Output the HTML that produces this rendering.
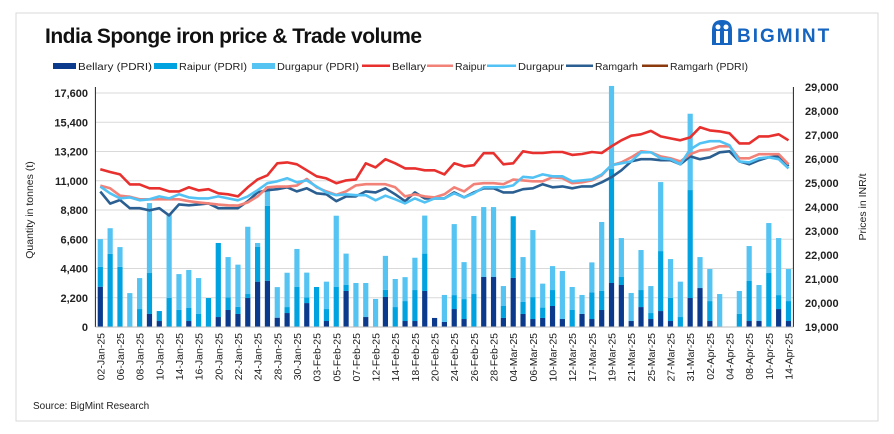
<!DOCTYPE html>
<html><head><meta charset="utf-8">
<style>
body{margin:0;background:#fff;font-family:"Liberation Sans",sans-serif;}
#wrap{position:relative;width:894px;height:434px;overflow:hidden;background:#fff;}
</style></head>
<body>
<div id="wrap">
<svg id="svg" width="894" height="434" xmlns="http://www.w3.org/2000/svg" font-family="Liberation Sans, sans-serif">
<rect x="16" y="13" width="862" height="408" fill="#fff" stroke="#d9d9d9"/>
<text x="45" y="43" font-size="21" font-weight="bold" fill="#111" letter-spacing="-0.5">India Sponge iron price &amp; Trade volume</text>
<g>
<path d="M712 45 L712 30 Q712 20 722 20 Q732 20 732 30 L732 45 Z" fill="#1565c0"/>
<circle cx="718" cy="27" r="2.5" fill="#fff"/><circle cx="726" cy="27" r="2.5" fill="#fff"/>
<rect x="716" y="31" width="4" height="12" fill="#fff"/><rect x="724" y="31" width="4" height="12" fill="#fff"/>
<text x="737" y="42" font-size="19" font-weight="bold" fill="#1565c0" letter-spacing="2">BIGMINT</text>
</g>
<g id="legend" font-size="10" fill="#222"></g>
<g id="grid"></g>
<g id="bars"></g>
<g id="lines"></g>
<g id="axes"></g>
<text x="33" y="409" font-size="10" fill="#222">Source: BigMint Research</text>
</svg>
</div>
<script>
const categories=["02-Jan-25","03-Jan-25","06-Jan-25","07-Jan-25","08-Jan-25","09-Jan-25","10-Jan-25","13-Jan-25","14-Jan-25","15-Jan-25","16-Jan-25","17-Jan-25","20-Jan-25","21-Jan-25","22-Jan-25","23-Jan-25","24-Jan-25","27-Jan-25","28-Jan-25","29-Jan-25","30-Jan-25","31-Jan-25","03-Feb-25","04-Feb-25","05-Feb-25","06-Feb-25","07-Feb-25","10-Feb-25","12-Feb-25","13-Feb-25","14-Feb-25","17-Feb-25","18-Feb-25","19-Feb-25","20-Feb-25","21-Feb-25","24-Feb-25","25-Feb-25","26-Feb-25","27-Feb-25","28-Feb-25","03-Mar-25","04-Mar-25","05-Mar-25","06-Mar-25","07-Mar-25","10-Mar-25","11-Mar-25","12-Mar-25","13-Mar-25","17-Mar-25","18-Mar-25","19-Mar-25","20-Mar-25","21-Mar-25","24-Mar-25","25-Mar-25","26-Mar-25","27-Mar-25","28-Mar-25","31-Mar-25","01-Apr-25","02-Apr-25","03-Apr-25","04-Apr-25","07-Apr-25","08-Apr-25","09-Apr-25","10-Apr-25","11-Apr-25","14-Apr-25"];
const bellaryVol=[3030,0,0,0,0,980,450,0,0,450,0,0,750,1280,980,2180,3410,3480,700,1050,0,1800,0,450,0,2710,0,750,0,2260,0,450,450,2710,680,380,1350,600,0,3760,3760,680,3690,980,600,680,1580,600,0,980,600,1280,3310,3160,450,1500,600,1200,450,0,2180,2930,450,0,0,0,450,450,0,1350,450];
const raipurVol=[1500,5500,4530,0,1350,3080,750,2180,1300,980,980,2180,5570,950,530,300,2630,5640,0,450,3010,430,3010,900,3010,450,0,0,0,530,1500,1500,2330,2810,0,0,1050,1500,2480,0,0,900,4640,900,1650,780,1200,0,1280,0,2000,1430,8570,600,0,1280,450,4510,1730,750,8120,0,1500,0,0,980,3010,0,4060,1050,1500];
const durgapurVol=[2080,1930,1480,2550,2330,5260,0,6340,2680,2860,2700,0,0,3030,3180,5060,280,1430,2300,2580,2860,1860,0,2060,5360,2360,3310,2560,2110,2560,2110,1800,2430,2860,0,2030,5340,2780,5870,5260,5260,1500,0,3380,5040,1800,1800,3610,1730,1430,2260,5190,6250,2930,2110,3010,2030,5190,2930,2660,5740,2330,2410,2480,0,1730,2630,2710,3760,4290,2410];
const bellaryPrice=[25570,25460,25360,24940,24940,24780,24780,24650,24650,24820,24690,24740,24570,24530,24440,24820,25150,25320,25820,25860,25780,25530,25280,25190,24990,25110,25150,25820,25650,25990,25820,25610,25610,25530,25530,25360,25820,25690,25740,26240,26240,25780,25820,26320,26250,26250,26290,26290,26170,26210,26290,26250,26530,26780,26970,27030,27170,26940,26860,26780,26900,27320,27190,27150,27070,26650,26650,26940,26940,27030,26780];
const raipurPrice=[24890,24780,24470,24430,24320,24320,24320,24320,24320,24240,24190,24150,24100,24070,24060,24190,24440,24820,24850,24850,24890,25170,24820,24650,24510,24650,24900,24950,24950,24950,24820,24440,24530,24440,24400,24530,24820,24650,24950,24990,24990,24950,25140,25110,25070,25070,25240,25200,24990,25030,25110,25320,25740,25860,26070,26320,26280,26110,26030,25900,26200,26360,26400,26530,26530,26030,26030,26200,26200,26200,25780];
const durgapurPrice=[24850,24570,24360,24400,24280,24320,24440,24360,24530,24400,24360,24360,24440,24360,24280,24440,24700,24990,25070,25200,25030,25110,24850,24610,24490,24530,24490,24490,24280,24470,24320,24150,24360,24190,24360,24360,24570,24400,24570,24820,24820,24820,24900,25260,25220,25360,25280,25280,25070,25110,25150,25350,25740,25820,25900,26280,26280,26030,25990,25780,26400,26650,26740,26740,26570,25900,25860,26030,26070,25990,25610];
const ramgarhPrice=[24640,24140,24290,23950,23950,23860,23950,23650,24110,24070,24110,24150,23950,23950,23950,24240,24610,24700,24740,24820,24650,24780,24570,24530,24240,24440,24440,24650,24610,24780,24530,24240,24610,24360,24360,24360,24610,24400,24610,24780,24780,24610,24610,24740,24780,24950,24820,24860,24780,24860,24860,25030,25240,25530,25900,25990,25990,25950,25950,25780,26110,25990,26070,26280,26320,25900,25780,25950,26070,26110,25700];
const leftTicks=[0,2200,4400,6600,8800,11000,13200,15400,17600];
const rightTicks=[19000,20000,21000,22000,23000,24000,25000,26000,27000,28000,29000];

const NS="http://www.w3.org/2000/svg";
const X0=95.4,X1=793.4,Y0=327,YT=93;
const band=(X1-X0)/categories.length;
const xc=i=>X0+band*(i+0.5);
const yL=v=>Y0-v*(Y0-YT)/17600;
const yR=p=>Y0-(p-19000)*0.024;
function mk(tag,attrs,parent){const e=document.createElementNS(NS,tag);for(const k in attrs)e.setAttribute(k,attrs[k]);parent.appendChild(e);return e;}
const grid=document.getElementById('grid'),bars=document.getElementById('bars'),lines=document.getElementById('lines'),axes=document.getElementById('axes'),legend=document.getElementById('legend');

leftTicks.forEach(t=>{
  const g=mk('line',{x1:X0,x2:X1,y1:yL(t),y2:yL(t),stroke:'#d9d9d9','stroke-width':1},grid);
  
  
  const tx=mk('text',{x:88,y:yL(t)+4,'text-anchor':'end','font-size':11,'font-weight':'bold',fill:'#222'},axes);
  tx.textContent=t.toLocaleString('en-US');
  
  
});
rightTicks.forEach(t=>{
  const tx=mk('text',{x:805,y:yR(t)+4,'font-size':11,'font-weight':'bold',fill:'#222'},axes);
  tx.textContent=t.toLocaleString('en-US');
  
  
});
let ax=mk('line',{x1:X0,x2:X0,y1:87,y2:Y0,stroke:'#222'},axes);


ax=mk('line',{x1:X1,x2:X1,y1:87,y2:Y0,stroke:'#222'},axes);


ax=mk('line',{x1:X0,x2:X1,y1:Y0,y2:Y0,stroke:'#bbb'},axes);


let lt=mk('text',{transform:'translate(33,210) rotate(-90)','text-anchor':'middle','font-size':10.5,fill:'#222'},axes);
lt.textContent='Quantity in tonnes (t)';


lt=mk('text',{transform:'translate(866,207) rotate(-90)','text-anchor':'middle','font-size':10.5,fill:'#222'},axes);
lt.textContent='Prices in INR/t';



categories.forEach((c,i)=>{
  if(i%2===0){
    const t=mk('text',{transform:`translate(${xc(i)+4},333) rotate(-90)`,'text-anchor':'end','font-size':10.5,fill:'#222'},axes);
    t.textContent=c;
    
    
  }
  let base=0;
  [[bellaryVol,'#0b3a8c','bar-bellary'],[raipurVol,'#00a3e0','bar-raipur'],[durgapurVol,'#55c4f2','bar-durgapur']].forEach(([arr,col,nm])=>{
    const v=arr[i]; if(v<=0)return;
    const r=mk('rect',{x:xc(i)-2.6,width:5.2,y:yL(base+v),height:yL(base)-yL(base+v),fill:col},bars);
    
    
    base+=v;
  });
});
[[ramgarhPrice,'#2b5f91','line-ramgarh'],[raipurPrice,'#f28178','line-raipur'],[durgapurPrice,'#52c2f4','line-durgapur'],[bellaryPrice,'#e8302e','line-bellary']].forEach(([arr,col,nm])=>{
  const p=mk('polyline',{points:arr.map((v,i)=>xc(i).toFixed(1)+','+yR(v).toFixed(1)).join(' '),fill:'none',stroke:col,'stroke-width':2.6,'stroke-linejoin':'round'},lines);
  
  
});
const leg=[['Bellary (PDRI)','#0b3a8c','box',53,23,74],['Raipur (PDRI)','#00a3e0','box',154,23,68],['Durgapur (PDRI)','#55c4f2','box',252,23,82],['Bellary','#e8302e','line',362,28,34],['Raipur','#f28178','line',427,26,31],['Durgapur','#52c2f4','line',487,29,46],['Ramgarh','#2b5f91','line',566,27,43],['Ramgarh (PDRI)','#8b3a0e','line',642,26,78]];
leg.forEach(l=>{
  const g=mk('g',{},legend);
  
  
  if(l[2]==='box') mk('rect',{x:l[3],y:63,width:l[4],height:6,fill:l[1]},g);
  else mk('rect',{x:l[3],y:64.5,width:l[4],height:2.5,fill:l[1]},g);
  const t=mk('text',{x:l[3]+l[4]+2,y:70,'font-size':10,fill:'#222',textLength:l[5],lengthAdjust:'spacingAndGlyphs'},g);
  t.textContent=l[0];
});
</script>
</body></html>
